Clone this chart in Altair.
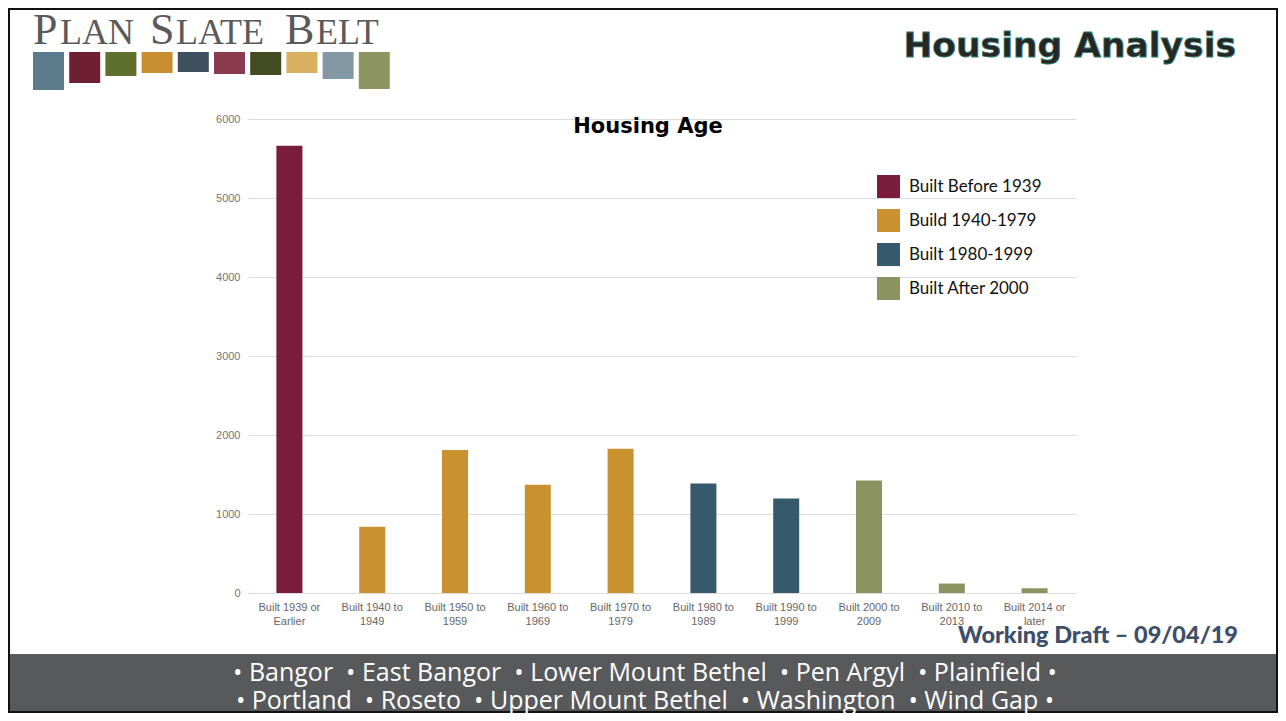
import altair as alt
import pandas as pd

# ---------------- data ----------------
categories = [
    "Built 1939 or Earlier", "Built 1940 to 1949", "Built 1950 to 1959",
    "Built 1960 to 1969", "Built 1970 to 1979", "Built 1980 to 1989",
    "Built 1990 to 1999", "Built 2000 to 2009", "Built 2010 to 2013",
    "Built 2014 or later",
]
units = [5660, 840, 1810, 1370, 1825, 1385, 1195, 1425, 120, 60]
groups = [
    "Built Before 1939", "Build 1940-1979", "Build 1940-1979", "Build 1940-1979",
    "Build 1940-1979", "Built 1980-1999", "Built 1980-1999", "Built After 2000",
    "Built After 2000", "Built After 2000",
]
group_names = ["Built Before 1939", "Build 1940-1979", "Built 1980-1999", "Built After 2000"]
group_colors = ["#7a1d3d", "#c9912f", "#365a6c", "#8b9461"]
y_ticks = [0, 1000, 2000, 3000, 4000, 5000, 6000]

chart_title = "Housing Age"
slide_title = "Housing Analysis"
draft_note = "Working Draft \u2013 09/04/19"
NB = "\u00a0"
municipalities_1 = f"\u2022 Bangor {NB}\u2022 East Bangor {NB}\u2022 Lower Mount Bethel {NB}\u2022 Pen Argyl {NB}\u2022 Plainfield \u2022"
municipalities_2 = f"\u2022 Portland {NB}\u2022 Roseto {NB}\u2022 Upper Mount Bethel {NB}\u2022 Washington {NB}\u2022 Wind Gap \u2022"
logo_colors = ["#5b7a8b", "#6e1f33", "#5f6f2e", "#c78f32", "#3e4f5d",
               "#8b3b50", "#434b22", "#d8b05f", "#8398a4", "#8c9560"]
logo_bottoms = [90, 83, 76, 73, 72, 74, 75, 73, 79, 89]

# ---------------- layout (plot origin at page x=248, y=119) ----------------
W, H = 828, 474
PAD = {"left": 240, "top": 111, "right": 202, "bottom": 120}
OX, OY = 248, 119  # page coords of plot origin


def label(text, x, y, **kw):
    return alt.Chart(pd.DataFrame({"t": [text]})).mark_text(**kw).encode(
        text="t:N", x=alt.value(x - OX), y=alt.value(y - OY)
    )


def box(x, x2, y, y2, **kw):
    return alt.Chart(pd.DataFrame({"a": [0]})).mark_rect(**kw).encode(
        x=alt.value(x - OX), x2=alt.value(x2 - OX),
        y=alt.value(y - OY), y2=alt.value(y2 - OY)
    )


layers = []

# bottom band
layers.append(box(8, 1278, 654, 713, color="#58595b"))
# frame
layers.append(box(9, 1277, 9, 712, fill=None, stroke="#111111", strokeWidth=2, filled=False))

# logo blocks
for i, c in enumerate(logo_colors):
    x0 = 33 + i * 36.2
    layers.append(box(x0, x0 + 31, 52, logo_bottoms[i], color=c))

# logo text (small caps)
logo_font = dict(font="Liberation Serif", color="#5a5a5a", align="left", baseline="alphabetic")
for txt, x, size in [("P", 33, 44), ("LAN", 60, 36), ("S", 150, 44), ("LATE", 176, 36),
                     ("B", 285, 44), ("ELT", 316, 36)]:
    layers.append(label(txt, x, 44, fontSize=size, **logo_font))

# slide title
layers.append(label(slide_title, 1236, 57, font="DejaVu Sans", fontSize=34.5, fontWeight="bold",
                    align="right", baseline="alphabetic", fill="#262626",
                    stroke="#2a7a6a", strokeWidth=0.8))

# bars
df = pd.DataFrame({"category": categories, "units": units, "group": groups})
bars = alt.Chart(df).mark_bar(size=26).encode(
    x=alt.X(
        "category:N", sort=categories,
        scale=alt.Scale(paddingInner=0, paddingOuter=0),
        axis=alt.Axis(
            title=None, labelAngle=0,
            labelExpr="[slice(datum.label,0,13), slice(datum.label,14)]",
            labelFontSize=11, labelColor="#666666", labelFont="Liberation Sans",
            labelPadding=8, labelLineHeight=14.5, ticks=False, domain=False,
            grid=False, labelLimit=200,
        ),
    ),
    y=alt.Y(
        "units:Q", scale=alt.Scale(domain=[0, 6000], nice=False),
        axis=alt.Axis(
            title=None, values=y_ticks, format="d", ticks=False, domain=False, grid=True,
            gridColor="#dcdcdc", labelColor="#757575", labelFontSize=11,
            labelFont="Liberation Sans", labelPadding=8,
        ),
    ),
    color=alt.Color(
        "group:N", scale=alt.Scale(domain=group_names, range=group_colors),
        legend=alt.Legend(
            title=None, orient="none", legendX=877 - OX, legendY=175 - OY,
            symbolType="square", symbolSize=529, symbolStrokeWidth=0,
            symbolOpacity=1, labelFont="Lato", labelFontSize=17,
            labelColor="#111111", labelOffset=9, rowPadding=11,
        ),
    ),
)
layers.append(bars)

# chart title
layers.append(label(chart_title, 648, 127, font="DejaVu Sans", fontSize=21, fontWeight="bold",
                    align="center", baseline="middle", color="#000000"))

# draft note
layers.append(label(draft_note, 1238, 636, font="Lato", fontSize=23.5, fontWeight=900,
                    align="right", baseline="middle", color="#3d4e68"))

# municipalities
layers.append(label(municipalities_1, 645, 673, font="Open Sans", fontSize=25,
                    align="center", baseline="middle", color="#ffffff"))
layers.append(label(municipalities_2, 645, 701, font="Open Sans", fontSize=25,
                    align="center", baseline="middle", color="#ffffff"))

chart = alt.layer(*layers).properties(
    width=W, height=H, padding=PAD,
    autosize=alt.AutoSizeParams(type="none"),
    background="#ffffff",
).configure_view(stroke=None)

chart.save("out.html", embed_options={"renderer": "svg", "actions": False})
